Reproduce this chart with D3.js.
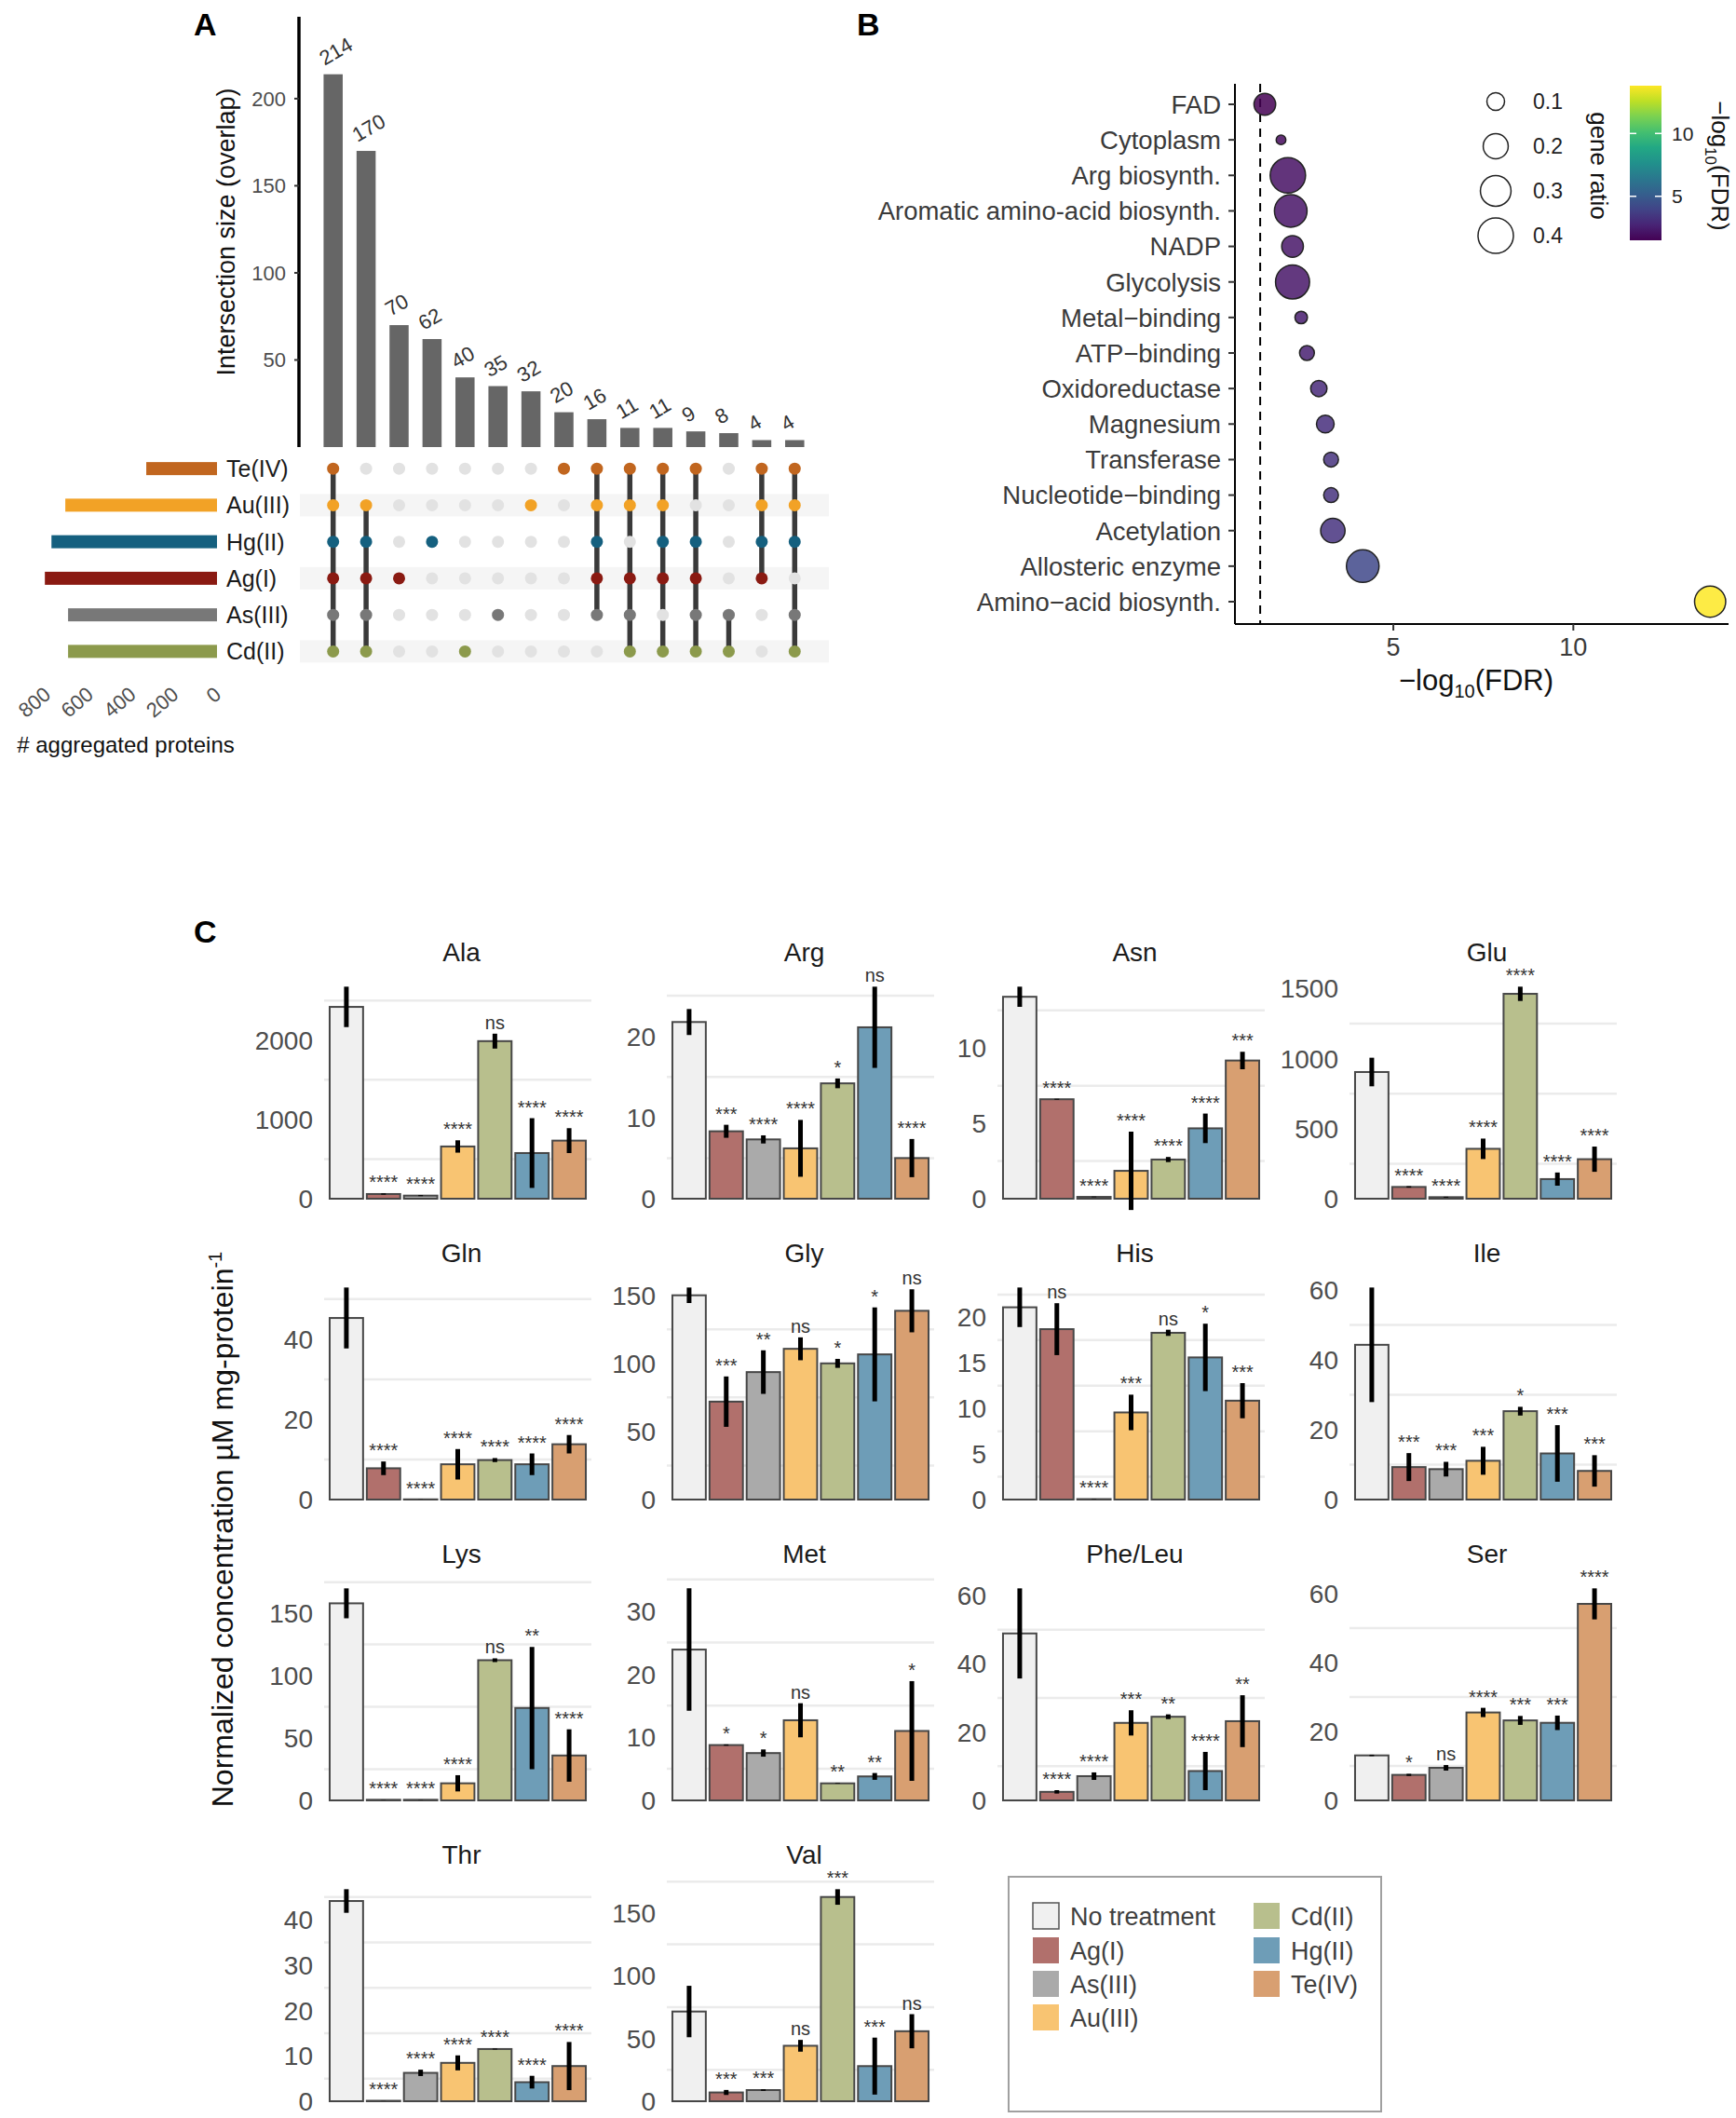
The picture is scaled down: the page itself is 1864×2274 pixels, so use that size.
<!DOCTYPE html>
<html>
<head>
<meta charset="utf-8">
<script src="https://cdn.jsdelivr.net/npm/d3@7"></script>
<style>
  body { margin: 0; background: #fff; }
  svg { font-family: "Liberation Sans", Arial, sans-serif; display: block; }
</style>
</head>
<body>
<svg id="fig" width="1864" height="2274"></svg>
<script>
// ---------- panel A data (UpSet)
const sets = ["Te(IV)", "Au(III)", "Hg(II)", "Ag(I)", "As(III)", "Cd(II)"];
const setColors = ["#c1661f", "#f2a226", "#15607f", "#8a1a12", "#787878", "#8c9a4c"];
const setSizes = [332, 712, 777, 808, 699, 699];
const setTicks = [0, 200, 400, 600, 800];
const interSizes = [214, 170, 70, 62, 40, 35, 32, 20, 16, 11, 11, 9, 8, 4, 4];
const interMembers = [
  ["Te(IV)", "Au(III)", "Hg(II)", "Ag(I)", "As(III)", "Cd(II)"],
  ["Au(III)", "Hg(II)", "Ag(I)", "As(III)", "Cd(II)"],
  ["Ag(I)"],
  ["Hg(II)"],
  ["Cd(II)"],
  ["As(III)"],
  ["Au(III)"],
  ["Te(IV)"],
  ["Te(IV)", "Au(III)", "Hg(II)", "Ag(I)", "As(III)"],
  ["Te(IV)", "Au(III)", "Ag(I)", "As(III)", "Cd(II)"],
  ["Te(IV)", "Au(III)", "Hg(II)", "Ag(I)", "Cd(II)"],
  ["Te(IV)", "Hg(II)", "Ag(I)", "As(III)", "Cd(II)"],
  ["As(III)", "Cd(II)"],
  ["Te(IV)", "Au(III)", "Hg(II)", "Ag(I)"],
  ["Te(IV)", "Au(III)", "Hg(II)", "As(III)", "Cd(II)"]
];
const interTicks = [50, 100, 150, 200];

// ---------- panel B data (enrichment)
const terms = ["FAD", "Cytoplasm", "Arg biosynth.", "Aromatic amino-acid biosynth.", "NADP",
  "Glycolysis", "Metal\u2212binding", "ATP\u2212binding", "Oxidoreductase", "Magnesium",
  "Transferase", "Nucleotide\u2212binding", "Acetylation", "Allosteric enzyme", "Amino\u2212acid biosynth."];
const fdrScore = [1.43, 1.88, 2.07, 2.15, 2.2, 2.2, 2.44, 2.6, 2.93, 3.11, 3.27, 3.27, 3.32, 4.15, 13.8];
const geneRatio = [0.15, 0.03, 0.40, 0.34, 0.15, 0.37, 0.05, 0.07, 0.085, 0.10, 0.07, 0.07, 0.19, 0.34, 0.31];
const fdrTicks = [5, 10];
const ratioLegend = [0.1, 0.2, 0.3, 0.4];

// ---------- panel C data (amino acids)
const aminoAcids = ["Ala", "Arg", "Asn", "Glu", "Gln", "Gly", "His", "Ile", "Lys", "Met", "Phe/Leu", "Ser", "Thr", "Val"];
const treatments = ["No treatment", "Ag(I)", "As(III)", "Au(III)", "Cd(II)", "Hg(II)", "Te(IV)"];
const treatColors = ["#f0f0f0", "#b1706c", "#aaaaaa", "#f8c472", "#b8bf8d", "#6e9db7", "#d89f71"];
const concMean = [
  [2420, 59, 39, 659, 1988, 576, 733],
  [21.75, 8.3, 7.3, 6.2, 14.2, 21.1, 5.0],
  [13.4, 6.6, 0.12, 1.85, 2.6, 4.67, 9.17],
  [904, 84, 11, 356, 1462, 140, 282],
  [45.3, 7.8, 0.05, 8.8, 9.85, 8.8, 13.8],
  [150, 71.9, 93.6, 110.7, 100, 106.6, 138.6],
  [21.1, 18.7, 0.05, 9.56, 18.3, 15.6, 10.85],
  [44.3, 9.3, 8.7, 11.1, 25.3, 13.2, 8.2],
  [158, 0.5, 0.5, 13.7, 112.4, 74.1, 36],
  [23.9, 8.77, 7.5, 12.7, 2.7, 3.8, 11.0],
  [48.9, 2.5, 7.1, 22.7, 24.5, 8.6, 23.2],
  [13.05, 7.4, 9.45, 25.5, 23.2, 22.5, 57],
  [44.1, 0.1, 6.25, 8.45, 11.5, 4.2, 7.75],
  [71.5, 7, 8.9, 44.2, 162.8, 28, 55.8]
];
const concErr = [
  [255, 8, 6, 78, 94, 440, 157],
  [1.6, 0.8, 0.5, 3.5, 0.6, 5.0, 2.35],
  [0.67, 0.03, 0.02, 2.6, 0.17, 0.98, 0.58],
  [102, 5, 3, 73, 51, 47, 90],
  [7.6, 1.7, 0.02, 3.8, 0.5, 2.7, 2.3],
  [5.7, 18.5, 16, 8.4, 3.3, 34.5, 15.8],
  [2.17, 2.85, 0.02, 1.95, 0.34, 3.7, 1.93],
  [16.4, 4, 2.1, 4, 1.25, 8.1, 4.5],
  [12, 0.1, 0.1, 6.5, 1.5, 49, 21],
  [9.7, 0.1, 0.57, 2.7, 0.05, 0.54, 7.9],
  [13.2, 0.5, 1.1, 3.7, 0.7, 5.6, 7.6],
  [0.2, 0.3, 0.8, 1.35, 1.3, 2.1, 4.5],
  [2.6, 0.02, 0.7, 1.65, 0.1, 1.4, 5.3],
  [20.5, 2, 0.6, 4.7, 6.2, 22.7, 13.6]
];
const sigLabels = [
  ["", "****", "****", "****", "ns", "****", "****"],
  ["", "***", "****", "****", "*", "ns", "****"],
  ["", "****", "****", "****", "****", "****", "***"],
  ["", "****", "****", "****", "****", "****", "****"],
  ["", "****", "****", "****", "****", "****", "****"],
  ["", "***", "**", "ns", "*", "*", "ns"],
  ["", "ns", "****", "***", "ns", "*", "***"],
  ["", "***", "***", "***", "*", "***", "***"],
  ["", "****", "****", "****", "ns", "**", "****"],
  ["", "*", "*", "ns", "**", "**", "*"],
  ["", "****", "****", "***", "**", "****", "**"],
  ["", "*", "ns", "****", "***", "***", "****"],
  ["", "****", "****", "****", "****", "****", "****"],
  ["", "***", "***", "ns", "***", "***", "ns"]
];
const yTickStep = [1000, 10, 5, 500, 20, 50, 5, 20, 50, 10, 20, 20, 10, 50];

const svg = d3.select("#fig");
svg.append("rect").attr("width", 1864).attr("height", 2274).attr("fill", "#fff");

function panelLetter(t, x, y) {
  svg.append("text").attr("x", x).attr("y", y).text(t)
    .attr("font-size", 34).attr("font-weight", "bold").attr("fill", "#000");
}
panelLetter("A", 208, 38);
panelLetter("B", 920, 38);
panelLetter("C", 208, 1012);

// ================= Panel A =================
const gA = svg.append("g");
const yA = d3.scaleLinear().domain([0, 247]).range([480, 18]);
const xA = d3.scaleBand().domain(d3.range(interSizes.length)).range([340, 871])
  .paddingInner(0.42).paddingOuter(0.21);
const yM = d3.scaleBand().domain(sets).range([483.5, 719]);

gA.append("line").attr("x1", 321).attr("x2", 321).attr("y1", yA(247)).attr("y2", yA(0))
  .attr("stroke", "#000").attr("stroke-width", 3.5);
interTicks.forEach(t => {
  gA.append("line").attr("x1", 316).attr("x2", 321).attr("y1", yA(t)).attr("y2", yA(t))
    .attr("stroke", "#333").attr("stroke-width", 2);
  gA.append("text").attr("x", 307).attr("y", yA(t)).attr("dy", "0.36em")
    .attr("text-anchor", "end").attr("font-size", 22).attr("fill", "#4d4d4d").text(t);
});
gA.append("text").attr("transform", "translate(252,249) rotate(-90)")
  .attr("text-anchor", "middle").attr("font-size", 27).attr("fill", "#111")
  .text("Intersection size (overlap)");

gA.selectAll("rect.ibar").data(interSizes).join("rect").attr("class", "ibar")
  .attr("x", (d, i) => xA(i)).attr("width", xA.bandwidth())
  .attr("y", d => yA(d)).attr("height", d => yA(0) - yA(d)).attr("fill", "#666");
gA.selectAll("text.ilab").data(interSizes).join("text").attr("class", "ilab")
  .attr("transform", (d, i) => `translate(${xA(i) + 1},${yA(d) - 9}) rotate(-30)`)
  .attr("font-size", 22).attr("fill", "#333").text(d => d);

// matrix shading
sets.forEach((s, i) => {
  if (i % 2 === 1) {
    gA.append("rect").attr("x", 322).attr("width", 568)
      .attr("y", yM(s) + yM.bandwidth() / 2 - 12).attr("height", 24).attr("fill", "#f5f5f5");
  }
});
// connectors and dots
interMembers.forEach((mem, j) => {
  const cx = xA(j) + xA.bandwidth() / 2;
  const ys = mem.map(m => yM(m) + yM.bandwidth() / 2);
  if (mem.length > 1) {
    gA.append("line").attr("x1", cx).attr("x2", cx)
      .attr("y1", d3.min(ys)).attr("y2", d3.max(ys))
      .attr("stroke", "#3a3a3a").attr("stroke-width", 5.5);
  }
  sets.forEach((s, i) => {
    const on = mem.includes(s);
    gA.append("circle").attr("cx", cx).attr("cy", yM(s) + yM.bandwidth() / 2).attr("r", 6.5)
      .attr("fill", on ? setColors[i] : "#e2e2e2");
  });
});
// set size bars
const xS = d3.scaleLinear().domain([0, 800]).range([233, 50]);
sets.forEach((s, i) => {
  const cy = yM(s) + yM.bandwidth() / 2;
  gA.append("rect").attr("x", xS(setSizes[i])).attr("width", xS(0) - xS(setSizes[i]))
    .attr("y", cy - 7).attr("height", 14).attr("fill", setColors[i]);
  gA.append("text").attr("x", 243).attr("y", cy).attr("dy", "0.36em")
    .attr("font-size", 25).attr("fill", "#1a1a1a").text(s);
});
setTicks.forEach(t => {
  gA.append("text").attr("transform", `translate(${xS(t) + 6},${748}) rotate(-40)`)
    .attr("text-anchor", "end").attr("font-size", 22).attr("fill", "#4d4d4d").text(t);
});
gA.append("text").attr("x", 135).attr("y", 808).attr("text-anchor", "middle")
  .attr("font-size", 24).attr("fill", "#111").text("# aggregated proteins");

// ================= Panel B =================
const gB = svg.append("g");
const xB = d3.scaleLinear().domain([0.6, 14.26]).range([1326, 1854]);
const yB = d3.scalePoint().domain(terms).range([112, 646]);
const rB = d3.scaleSqrt().domain([0, 0.4]).range([0, 19]);
const cB = d3.scaleSequential(d3.interpolateViridis).domain([1.5, 13.8]);

gB.append("line").attr("x1", 1326).attr("x2", 1326).attr("y1", 90).attr("y2", 670)
  .attr("stroke", "#000").attr("stroke-width", 2);
gB.append("line").attr("x1", 1326).attr("x2", 1856).attr("y1", 670).attr("y2", 670)
  .attr("stroke", "#000").attr("stroke-width", 2);
gB.append("line").attr("x1", xB(1.301)).attr("x2", xB(1.301)).attr("y1", 90).attr("y2", 670)
  .attr("stroke", "#000").attr("stroke-width", 2).attr("stroke-dasharray", "9,7");
terms.forEach(t => {
  gB.append("line").attr("x1", 1319).attr("x2", 1326).attr("y1", yB(t)).attr("y2", yB(t))
    .attr("stroke", "#333").attr("stroke-width", 2);
  gB.append("text").attr("x", 1311).attr("y", yB(t)).attr("dy", "0.36em")
    .attr("text-anchor", "end").attr("font-size", 27.5).attr("fill", "#3a3a3a").text(t);
});
fdrTicks.forEach(t => {
  gB.append("line").attr("x1", xB(t)).attr("x2", xB(t)).attr("y1", 670).attr("y2", 677)
    .attr("stroke", "#333").attr("stroke-width", 2);
  gB.append("text").attr("x", xB(t)).attr("y", 704).attr("text-anchor", "middle")
    .attr("font-size", 27).attr("fill", "#3a3a3a").text(t);
});
const xt = gB.append("text").attr("x", 1585).attr("y", 741).attr("text-anchor", "middle")
  .attr("font-size", 31).attr("fill", "#111");
xt.append("tspan").text("\u2212log");
xt.append("tspan").attr("font-size", 20).attr("dy", 8).text("10");
xt.append("tspan").attr("dy", -8).text("(FDR)");

gB.selectAll("circle.pt").data(terms).join("circle").attr("class", "pt")
  .attr("cx", (d, i) => xB(fdrScore[i])).attr("cy", d => yB(d))
  .attr("r", (d, i) => rB(geneRatio[i])).attr("fill", (d, i) => cB(fdrScore[i]))
  .attr("fill-opacity", 0.85).attr("stroke", "#222").attr("stroke-width", 1.5);

// size legend
const legY = d3.scalePoint().domain(ratioLegend).range([109, 253]);
ratioLegend.forEach(v => {
  gB.append("circle").attr("cx", 1606).attr("cy", legY(v)).attr("r", rB(v))
    .attr("fill", "#fff").attr("stroke", "#222").attr("stroke-width", 1.5);
  gB.append("text").attr("x", 1646).attr("y", legY(v)).attr("dy", "0.36em")
    .attr("font-size", 23).attr("fill", "#222").text(v);
});
gB.append("text").attr("transform", "translate(1708,178) rotate(90)").attr("text-anchor", "middle")
  .attr("font-size", 26).attr("fill", "#111").text("gene ratio");

// colour bar
const grad = svg.append("defs").append("linearGradient").attr("id", "vir")
  .attr("x1", 0).attr("y1", 1).attr("x2", 0).attr("y2", 0);
d3.range(0, 1.0001, 0.1).forEach(p => {
  grad.append("stop").attr("offset", p).attr("stop-color", d3.interpolateViridis(p));
});
const cbY = d3.scaleLinear().domain([1.5, 13.8]).range([258, 92]);
gB.append("rect").attr("x", 1750).attr("y", 92).attr("width", 34).attr("height", 166)
  .attr("fill", "url(#vir)");
fdrTicks.forEach(t => {
  gB.append("line").attr("x1", 1750).attr("x2", 1757).attr("y1", cbY(t)).attr("y2", cbY(t))
    .attr("stroke", "#fff").attr("stroke-width", 1.5);
  gB.append("line").attr("x1", 1777).attr("x2", 1784).attr("y1", cbY(t)).attr("y2", cbY(t))
    .attr("stroke", "#fff").attr("stroke-width", 1.5);
  gB.append("text").attr("x", 1795).attr("y", cbY(t)).attr("dy", "0.36em")
    .attr("font-size", 21).attr("fill", "#222").text(t);
});
const ct = gB.append("text").attr("transform", "translate(1838,178) rotate(90)")
  .attr("text-anchor", "middle").attr("font-size", 26).attr("fill", "#111");
ct.append("tspan").text("\u2212log");
ct.append("tspan").attr("font-size", 17).attr("dy", 7).text("10");
ct.append("tspan").attr("dy", -7).text("(FDR)");

// ================= Panel C =================
const gC = svg.append("g");
const colLeft = [348, 716, 1071, 1449];
const rowZero = [1287, 1610, 1933, 2256];
const pW = 287, pH = 247;

aminoAcids.forEach((aa, i) => {
  const left = colLeft[i % 4];
  const zero = rowZero[Math.floor(i / 4)];
  const means = concMean[i], errs = concErr[i];
  const dataMax = d3.max(means.map((m, k) => m + errs[k]));
  const top = dataMax * 1.085;
  const y = d3.scaleLinear().domain([0, top]).range([zero, zero - pH]);
  const x = d3.scaleBand().domain(treatments).range([left, left + pW])
    .paddingInner(0.1).paddingOuter(0.15);
  const g = gC.append("g");
  const step = yTickStep[i];

  for (let v = step / 2; v < top; v += step) {
    g.append("line").attr("x1", left).attr("x2", left + pW).attr("y1", y(v)).attr("y2", y(v))
      .attr("stroke", "#ebebeb").attr("stroke-width", 2.5);
  }
  for (let v = 0; v <= dataMax; v += step) {
    g.append("text").attr("x", left - 12).attr("y", y(v)).attr("dy", "0.36em")
      .attr("text-anchor", "end").attr("font-size", 28).attr("fill", "#4d4d4d").text(v);
  }
  g.append("text").attr("x", left + pW / 2 + 4).attr("y", zero - 265).attr("dy", "0.36em")
    .attr("text-anchor", "middle").attr("font-size", 28).attr("fill", "#1a1a1a").text(aa);

  g.selectAll("rect").data(treatments).join("rect")
    .attr("x", d => x(d)).attr("width", x.bandwidth())
    .attr("y", (d, k) => y(means[k])).attr("height", (d, k) => y(0) - y(means[k]))
    .attr("fill", (d, k) => treatColors[k]).attr("stroke", "#474747").attr("stroke-width", 2);
  g.selectAll("line.err").data(treatments).join("line").attr("class", "err")
    .attr("x1", d => x(d) + x.bandwidth() / 2).attr("x2", d => x(d) + x.bandwidth() / 2)
    .attr("y1", (d, k) => y(means[k] - errs[k])).attr("y2", (d, k) => y(means[k] + errs[k]))
    .attr("stroke", "#000").attr("stroke-width", 5);
  g.selectAll("text.sig").data(treatments).join("text").attr("class", "sig")
    .attr("x", d => x(d) + x.bandwidth() / 2)
    .attr("y", (d, k) => y(means[k] + errs[k]) - 5)
    .attr("text-anchor", "middle").attr("font-size", 20).attr("fill", "#333")
    .text((d, k) => sigLabels[i][k]);
});

const yt = gC.append("text").attr("transform", "translate(250,1642) rotate(-90)")
  .attr("text-anchor", "middle").attr("font-size", 32).attr("fill", "#111");
yt.append("tspan").text("Normalized concentration \u00b5M mg-protein");
yt.append("tspan").attr("font-size", 20).attr("dy", -12).text("-1");

// legend
const gL = gC.append("g");
gL.append("rect").attr("x", 1083).attr("y", 2015).attr("width", 400).attr("height", 252)
  .attr("fill", "#fff").attr("stroke", "#a0a0a0").attr("stroke-width", 2);
const legRowY = [2057, 2094, 2130, 2166];
treatments.forEach((t, k) => {
  const lx = k < 4 ? 1109 : 1346;
  const ly = legRowY[k < 4 ? k : k - 4];
  gL.append("rect").attr("x", lx).attr("y", ly - 14).attr("width", 28).attr("height", 28)
    .attr("fill", treatColors[k]).attr("stroke", k === 0 ? "#555" : "none").attr("stroke-width", 1.5);
  gL.append("text").attr("x", lx + 40).attr("y", ly).attr("dy", "0.36em")
    .attr("font-size", 27).attr("fill", "#404040").text(t);
});
</script>
</body>
</html>
